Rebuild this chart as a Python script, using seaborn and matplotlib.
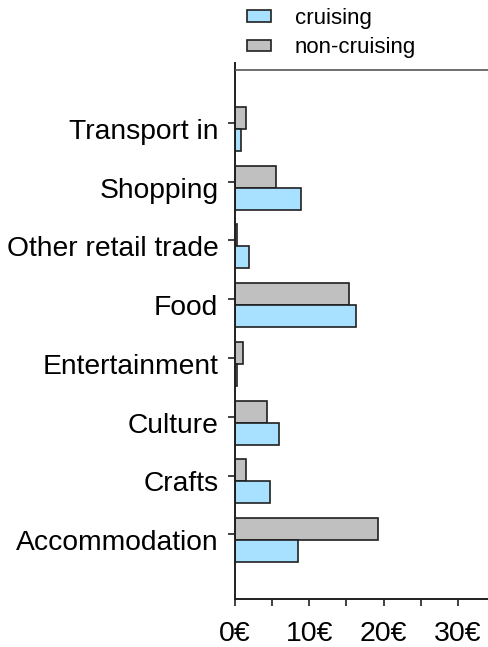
import matplotlib
matplotlib.use("Agg")
import matplotlib.pyplot as plt
import matplotlib.patches as mpatches
from matplotlib.ticker import FixedLocator, MultipleLocator, FuncFormatter
import seaborn as sns
import pandas as pd

categories = ["Transport in", "Shopping", "Other retail trade", "Food",
              "Entertainment", "Culture", "Crafts", "Accommodation"]
cruising = [0.85, 8.9, 1.85, 16.35, 0.3, 5.9, 4.7, 8.5]
non_cruising = [1.45, 5.5, 0.27, 15.4, 1.05, 4.3, 1.45, 19.2]
series_names = ["cruising", "non-cruising"]
x_ticks = [0, 10, 20, 30]

blue = "#A8E0FF"
grey = "#C0C0C0"
edge = "#202020"

sns.set_theme(style="white")
plt.rcParams["font.family"] = ["Liberation Sans", "DejaVu Sans"]
plt.rcParams["text.color"] = "black"

df = pd.DataFrame({
    "category": categories * 2,
    "value": cruising + non_cruising,
    "series": [series_names[0]] * len(categories) + [series_names[1]] * len(categories),
})

fig = plt.figure(figsize=(4.89, 6.47), dpi=100)
ax = fig.add_axes([235 / 489, 1 - 599 / 647, 1 - 235 / 489, (599 - 63) / 647])

sns.barplot(data=df, x="value", y="category", hue="series",
            hue_order=["non-cruising", "cruising"], order=categories,
            palette={"cruising": blue, "non-cruising": grey}, saturation=1,
            width=0.75, edgecolor=edge, linewidth=1.2, ax=ax, legend=False,
            errorbar=None)

ax.set_xlim(0, 34.2)
ax.set_ylim(8.0, -1.12)
ax.axhline(-1, color="#555555", lw=1.2, zorder=5)

for s in ["top", "right"]:
    ax.spines[s].set_visible(False)
for s in ["left", "bottom"]:
    ax.spines[s].set_color("#202020")
    ax.spines[s].set_linewidth(1.4)

ax.set_xlabel("")
ax.set_ylabel("")

# x ticks
ax.xaxis.set_major_locator(FixedLocator(x_ticks))
ax.xaxis.set_minor_locator(MultipleLocator(5))
ax.xaxis.set_major_formatter(FuncFormatter(lambda v, p: f"{int(v)}€"))
ax.tick_params(axis="x", which="both", direction="out", length=5, width=1.2,
               color="#202020", bottom=True, labelsize=20.5, pad=11, labelcolor="black")

# y ticks: labels at bar centres, tick marks slightly above
ax.set_yticks(range(len(categories)))
ax.set_yticklabels(categories)
ax.tick_params(axis="y", which="major", length=0, pad=12, labelsize=20.3, labelcolor="black")
ax.yaxis.set_minor_locator(FixedLocator([i - 0.1 for i in range(len(categories))]))
ax.tick_params(axis="y", which="minor", left=True, direction="out", length=5,
               width=1.2, color="#202020")

handles = [mpatches.Patch(facecolor=blue, edgecolor=edge, linewidth=1.2, label=series_names[0]),
           mpatches.Patch(facecolor=grey, edgecolor=edge, linewidth=1.2, label=series_names[1])]
leg = fig.legend(handles=handles, loc="upper left", bbox_to_anchor=(247 / 489, 1 - 8 / 647),
                 frameon=False, fontsize=16, handlelength=1.1, handleheight=0.42,
                 handletextpad=1.05, labelspacing=0.37, borderpad=0, borderaxespad=0)
for t in leg.get_texts():
    t.set_color("black")

fig.savefig("out.png", dpi=100)
